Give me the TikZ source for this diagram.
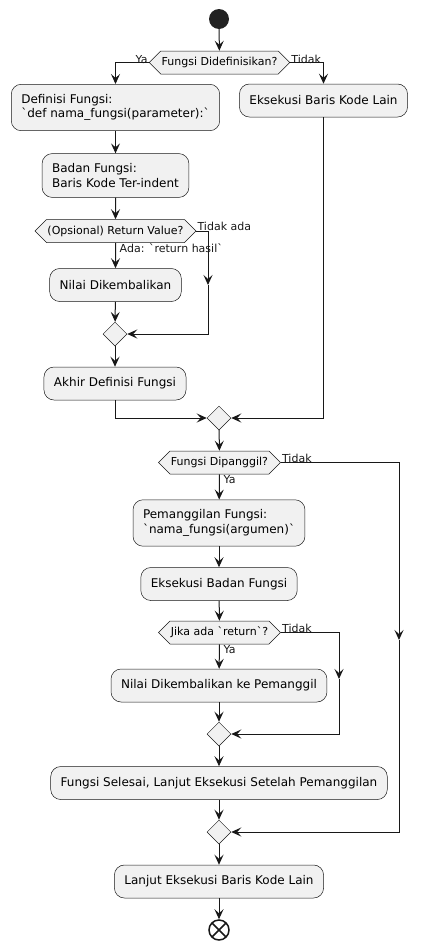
\documentclass[tikz,border=0pt]{standalone}
\usepackage{fontspec}
\setmainfont{DejaVu Sans}
\usetikzlibrary{arrows.meta,shapes.geometric,shapes.symbols}
\definecolor{boxfill}{HTML}{F1F1F1}
\definecolor{ink}{HTML}{181818}
\definecolor{dot}{HTML}{222222}
\begin{document}
\begin{tikzpicture}[x=1pt, y=-1pt,
    act/.style={draw=ink, line width=0.5pt, fill=boxfill, rounded corners=10pt,
        align=left, inner xsep=10pt, inner ysep=10pt, minimum height=33pt,
        font=\fontsize{12}{14.5}\selectfont},
    choice/.style={signal, signal to=west and east, signal pointer angle=90,
        draw=ink, line width=0.5pt, fill=boxfill, inner xsep=1pt, inner ysep=6pt,
        text height=8.5pt, text depth=2.5pt, font=\fontsize{11}{13}\selectfont},
    merge/.style={diamond, aspect=1, draw=ink, line width=0.5pt, fill=boxfill,
        minimum size=24pt, inner sep=0pt},
    flow/.style={-{Stealth[length=10pt, width=9pt, inset=4pt]}, draw=ink, line width=1pt},
    lbl/.style={font=\fontsize{11}{13}\selectfont, inner sep=1pt, text=ink}]
            % the frame
            \useasboundingbox (0,0) rectangle (423,948);

            % start and end
            \node[circle, fill=dot, minimum size=20pt, inner sep=0pt] (start) at (219,19) {};
            \node[circle, draw=ink, line width=1.5pt, fill=white, minimum size=20pt, inner sep=0pt,
                path picture={
                    \draw[ink, line width=1.5pt]
                        ([shift={(-7pt,-7pt)}]path picture bounding box.center) -- ([shift={(7pt,7pt)}]path picture bounding box.center)
                        ([shift={(-7pt,7pt)}]path picture bounding box.center) -- ([shift={(7pt,-7pt)}]path picture bounding box.center);
                }] (stop) at (219,930) {};

            % definition part
            \node[choice] (defq) at (219.5,62.5) {Fungsi Didefinisikan?};
            \node[act] (def) at (115.5,107.5) {Definisi Fungsi:\\\textasciigrave def nama\_fungsi(parameter):\textasciigrave};
            \node[act] (other) at (323.5,100.5) {Eksekusi Baris Kode Lain};
            \node[act] (body) at (115.5,175.5) {Badan Fungsi:\\Baris Kode Ter-indent};
            \node[choice] (retq) at (115.5,231) {(Opsional) Return Value?};
            \node[act] (ret) at (115.5,285) {Nilai Dikembalikan};
            \node[merge] (m1) at (115,334) {};
            \node[act] (enddef) at (115,383.5) {Akhir Definisi Fungsi};
            \node[merge] (m2) at (219,418) {};

            % call part
            \node[choice] (callq) at (219.5,462.5) {Fungsi Dipanggil?};
            \node[act] (call) at (219,523) {Pemanggilan Fungsi:\\\textasciigrave nama\_fungsi(argumen)\textasciigrave};
            \node[act] (run) at (219,584) {Eksekusi Badan Fungsi};
            \node[choice] (backq) at (219.5,632.5) {Jika ada \textasciigrave return\textasciigrave?};
            \node[act] (back) at (219,685.5) {Nilai Dikembalikan ke Pemanggil};
            \node[merge] (m3) at (219,734) {};
            \node[act] (done) at (219,783) {Fungsi Selesai, Lanjut Eksekusi Setelah Pemanggilan};
            \node[merge] (m4) at (219,832) {};
            \node[act] (next) at (219,881.5) {Lanjut Eksekusi Baris Kode Lain};

            % the bends
            \coordinate (r1) at (208,285);
            \coordinate (r3) at (399,640);
            \coordinate (r4) at (339,679);

            % the arrows
            \draw[flow] (start) -- (defq);
            \draw[flow] (defq.west) -| (def);
            \draw[flow] (defq.east) -| (other);
            \draw[flow] (def) -- (body);
            \draw[flow] (body) -- (retq);
            \draw[flow] (retq) -- (ret);
            \draw[flow] (retq.east) -| (r1);
            \draw[flow] (r1) |- (m1);
            \draw[flow] (ret) -- (m1);
            \draw[flow] (m1) -- (enddef);
            \draw[flow] (enddef.south) |- (m2);
            \draw[flow] (other.south) |- (m2);
            \draw[flow] (m2) -- (callq);
            \draw[flow] (callq) -- (call);
            \draw[flow] (callq.east) -| (r3);
            \draw[flow] (r3) |- (m4);
            \draw[flow] (call) -- (run);
            \draw[flow] (run) -- (backq);
            \draw[flow] (backq) -- (back);
            \draw[flow] (backq.east) -| (r4);
            \draw[flow] (r4) |- (m3);
            \draw[flow] (back) -- (m3);
            \draw[flow] (m3) -- (done);
            \draw[flow] (done) -- (m4);
            \draw[flow] (m4) -- (next);
            \draw[flow] (next) -- (stop);

            % labels
            \node[lbl, anchor=south east] (ya1) at ([yshift=-2pt]defq.west) {Ya};
            \node[lbl, anchor=south west] (no1) at ([yshift=-2pt]defq.east) {Tidak};
            \node[lbl, anchor=south west] (no2) at ([yshift=-1pt]retq.east) {Tidak ada};
            \node[lbl, anchor=north west] (ya2) at ([xshift=3pt]retq.south) {Ada: \textasciigrave return hasil\textasciigrave};
            \node[lbl, anchor=south west] (no3) at ([yshift=-1pt]callq.east) {Tidak};
            \node[lbl, anchor=north west] (ya3) at ([xshift=3pt]callq.south) {Ya};
            \node[lbl, anchor=south west] (no4) at ([yshift=-1pt]backq.east) {Tidak};
            \node[lbl, anchor=north west] (ya4) at ([xshift=3pt]backq.south) {Ya};
\end{tikzpicture}
\end{document}
